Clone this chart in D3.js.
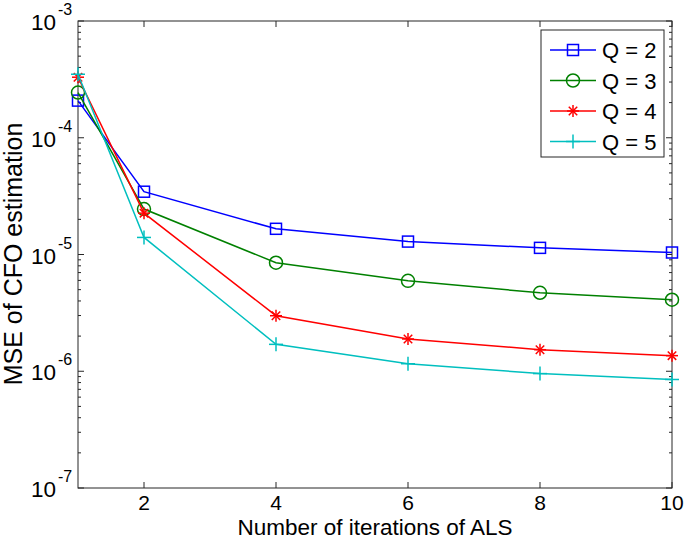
<!DOCTYPE html>
<html><head><meta charset="utf-8">
<script src="https://cdn.jsdelivr.net/npm/d3@7"></script>
<style>
html,body{margin:0;padding:0;background:#fff;}
text{font-family:"Liberation Sans",Arial,Helvetica,sans-serif;fill:#000;}
</style></head>
<body>
<svg id="chart" width="685" height="549"></svg>
<script>
const iterations = [1, 2, 4, 6, 8, 10];
const seriesNames = ["Q = 2", "Q = 3", "Q = 4", "Q = 5"];
const q2 = [2.08e-4, 3.45e-5, 1.66e-5, 1.29e-5, 1.14e-5, 1.04e-5];
const q3 = [2.44e-4, 2.45e-5, 8.5e-6, 5.95e-6, 4.7e-6, 4.1e-6];
const q4 = [3.3e-4, 2.26e-5, 2.99e-6, 1.89e-6, 1.53e-6, 1.36e-6];
const q5 = [3.5e-4, 1.4e-5, 1.70e-6, 1.16e-6, 9.55e-7, 8.5e-7];
const colors = ["#0000ff", "#008000", "#ff0000", "#00bfbf"];
const markers = ["square", "circle", "star", "plus"];
const xTicks = [2, 4, 6, 8, 10];
const yDecades = [-7, -6, -5, -4, -3];

const series = [q2, q3, q4, q5];
const svg = d3.select("#chart");
const L = 78, R = 672, T = 21, B = 488;
const x = d3.scaleLinear().domain([1, 10]).range([L, R]);
const y = d3.scaleLog().domain([1e-7, 1e-3]).range([B, T]);
const axisColor = "#262626";

// frame
svg.append("rect").attr("x", L).attr("y", T).attr("width", R - L).attr("height", B - T)
  .attr("fill", "none").attr("stroke", axisColor).attr("stroke-width", 1);

// x ticks (inward, bottom and top)
const tl = 6;
xTicks.forEach(t => {
  svg.append("line").attr("x1", x(t)).attr("x2", x(t)).attr("y1", B).attr("y2", B - tl).attr("stroke", axisColor);
  svg.append("line").attr("x1", x(t)).attr("x2", x(t)).attr("y1", T).attr("y2", T + tl).attr("stroke", axisColor);
  svg.append("text").attr("x", x(t)).attr("y", B + 22).attr("text-anchor", "middle")
    .attr("font-size", 21).text(t);
});

// y ticks: major and minor
yDecades.forEach(d => {
  const v = Math.pow(10, d);
  svg.append("line").attr("x1", L).attr("x2", L + tl).attr("y1", y(v)).attr("y2", y(v)).attr("stroke", axisColor);
  svg.append("line").attr("x1", R).attr("x2", R - tl).attr("y1", y(v)).attr("y2", y(v)).attr("stroke", axisColor);
  svg.append("text").attr("x", 56).attr("y", y(v) + 9).attr("text-anchor", "end").attr("font-size", 22.5).text("10");
  svg.append("text").attr("x", 58).attr("y", y(v) - 6).attr("font-size", 16).text("-" + Math.abs(d));
  if (d < -3) {
    for (let m = 2; m <= 9; m++) {
      const mv = m * v;
      svg.append("line").attr("x1", L).attr("x2", L + 3).attr("y1", y(mv)).attr("y2", y(mv)).attr("stroke", axisColor);
      svg.append("line").attr("x1", R).attr("x2", R - 3).attr("y1", y(mv)).attr("y2", y(mv)).attr("stroke", axisColor);
    }
  }
});

function drawMarker(g, type, cx, cy, color) {
  if (type === "square") {
    g.append("rect").attr("x", cx - 5.5).attr("y", cy - 5.5).attr("width", 11).attr("height", 11)
      .attr("fill", "none").attr("stroke", color).attr("stroke-width", 1.5);
  } else if (type === "circle") {
    g.append("circle").attr("cx", cx).attr("cy", cy).attr("r", 6.5)
      .attr("fill", "none").attr("stroke", color).attr("stroke-width", 1.5);
  } else if (type === "star") {
    const r = 6;
    [0, 45, 90, 135].forEach(a => {
      const rad = a * Math.PI / 180;
      g.append("line").attr("x1", cx - r * Math.cos(rad)).attr("y1", cy - r * Math.sin(rad))
        .attr("x2", cx + r * Math.cos(rad)).attr("y2", cy + r * Math.sin(rad))
        .attr("stroke", color).attr("stroke-width", 1.5);
    });
  } else if (type === "plus") {
    const r = 7;
    g.append("line").attr("x1", cx - r).attr("x2", cx + r).attr("y1", cy).attr("y2", cy).attr("stroke", color).attr("stroke-width", 1.5);
    g.append("line").attr("x1", cx).attr("x2", cx).attr("y1", cy - r).attr("y2", cy + r).attr("stroke", color).attr("stroke-width", 1.5);
  }
}

const line = d3.line().x((d, i) => x(iterations[i])).y(d => y(d));
series.forEach((s, k) => {
  const g = svg.append("g");
  g.append("path").attr("d", line(s)).attr("fill", "none").attr("stroke", colors[k]).attr("stroke-width", 1.5);
  s.forEach((v, i) => drawMarker(g, markers[k], x(iterations[i]), y(v), colors[k]));
});

// legend
const lx = 541, ly = 30, lw = 123, lh = 127;
svg.append("rect").attr("x", lx).attr("y", ly).attr("width", lw).attr("height", lh)
  .attr("fill", "#fff").attr("stroke", axisColor).attr("stroke-width", 1);
seriesNames.forEach((n, k) => {
  const yy = ly + 20 + k * 30.5;
  const g = svg.append("g");
  g.append("line").attr("x1", 550).attr("x2", 596).attr("y1", yy).attr("y2", yy).attr("stroke", colors[k]).attr("stroke-width", 1.5);
  drawMarker(g, markers[k], 573, yy, colors[k]);
  svg.append("text").attr("x", 602).attr("y", yy + 8).attr("font-size", 22).text(n);
});

// axis labels
svg.append("text").attr("x", 375).attr("y", 535).attr("text-anchor", "middle")
  .attr("font-size", 22.5).text("Number of iterations of ALS");
svg.append("text").attr("transform", `translate(22,254) rotate(-90)`).attr("text-anchor", "middle")
  .attr("font-size", 25).text("MSE of CFO estimation");
</script>
</body></html>
